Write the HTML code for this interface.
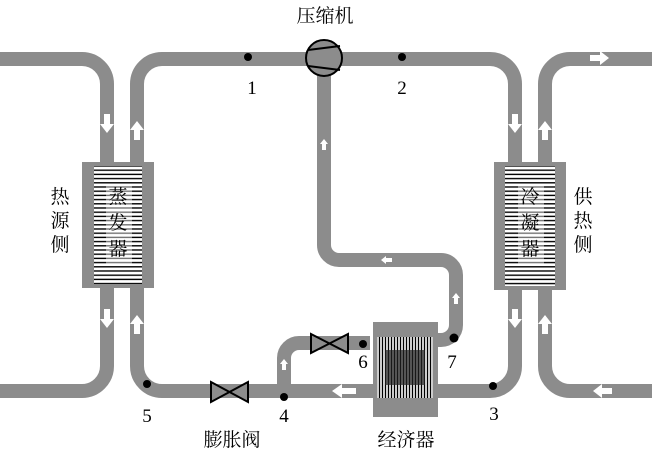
<!DOCTYPE html>
<html><head><meta charset="utf-8"><style>
body{margin:0;background:#fff}
svg{display:block}
text{font-family:"Liberation Serif","Noto Serif CJK SC",serif;fill:#000}
</style></head><body>
<svg width="652" height="452" viewBox="0 0 652 452" xmlns="http://www.w3.org/2000/svg">
<defs>
<pattern id="hl" width="10" height="4.2" patternUnits="userSpaceOnUse">
<rect width="10" height="4.2" fill="#fff"/><rect y="1.5" width="10" height="1.4" fill="#000"/>
</pattern>
<pattern id="vl" width="3" height="10" patternUnits="userSpaceOnUse">
<rect width="3" height="10" fill="#fff"/><rect x="0.8" width="1.4" height="10" fill="#000"/>
</pattern>
</defs>
<g fill="none" stroke="#8c8c8c" stroke-width="14">
<path d="M0,59 H82 A25 25 0 0 1 107 84 V366 A25 25 0 0 1 82 391 H0"/>
<path d="M324,59 H490 A25 25 0 0 1 515 84 V366 A25 25 0 0 1 490 391 H162 A25 25 0 0 1 137 366 V84 A25 25 0 0 1 162 59 Z"/>
<path d="M652,59 H570 A25 25 0 0 0 545 84 V366 A25 25 0 0 0 570 391 H652"/>
<path d="M324,59 V245 A15 15 0 0 0 339 260 H441 A15 15 0 0 1 456 275 V325 A15 15 0 0 1 441 340 H420"/>
<path d="M284,391 V358 A15 15 0 0 1 299 343 H370"/>
</g>
<rect x="82" y="162" width="72" height="126" fill="#8c8c8c"/>
<rect x="94" y="166" width="48" height="118" fill="url(#hl)"/>
<rect x="494" y="162" width="72" height="128" fill="#8c8c8c"/>
<rect x="505" y="166" width="50" height="120" fill="url(#hl)"/>
<rect x="373" y="322" width="65" height="95" fill="#8c8c8c"/>
<rect x="377" y="337" width="56" height="61" fill="url(#vl)"/>
<rect x="385" y="350" width="40" height="35" fill="#222" opacity="0.7"/>
<rect x="106" y="185" width="26" height="80" fill="#fff" opacity="0.45"/>
<rect x="518" y="185" width="26" height="80" fill="#fff" opacity="0.45"/>
<circle cx="324" cy="58" r="18" fill="#8c8c8c" stroke="#000" stroke-width="2"/>
<path d="M308,50 L340,46 M308,66 L340,70" stroke="#000" stroke-width="2"/>
<path d="M211,382 L248,402 L248,382 L211,402 Z" fill="#8c8c8c" stroke="#000" stroke-width="2"/>
<path d="M311,334 L348,353 L348,334 L311,353 Z" fill="#8c8c8c" stroke="#000" stroke-width="2"/>
<g fill="#000">
<circle cx="248" cy="57" r="4"/><circle cx="402" cy="57" r="4"/>
<circle cx="147" cy="384" r="4"/><circle cx="284" cy="397" r="4"/>
<circle cx="493" cy="386" r="4"/><circle cx="363" cy="344" r="4"/>
<circle cx="454" cy="338" r="4.5"/>
</g>
<g fill="#fff">
<path d="M104,114 h6 v10 h4 l-7,9 l-7,-9 h4z"/>
<path d="M104,309 h6 v10 h4 l-7,9 l-7,-9 h4z"/>
<path d="M134,140 h6 v-10 h4 l-7,-9 l-7,9 h4z"/>
<path d="M134,334 h6 v-10 h4 l-7,-9 l-7,9 h4z"/>
<path d="M512,114 h6 v10 h4 l-7,9 l-7,-9 h4z"/>
<path d="M512,309 h6 v10 h4 l-7,9 l-7,-9 h4z"/>
<path d="M542,140 h6 v-10 h4 l-7,-9 l-7,9 h4z"/>
<path d="M542,334 h6 v-10 h4 l-7,-9 l-7,9 h4z"/>
<path d="M590,55 v6 h10 v4 l9,-7 l-9,-7 v4z"/>
<path d="M612,388 v6 h-10 v4 l-9,-7 l9,-7 v4z"/>
<path d="M356,388 v6 h-14 v4 l-10,-7 l10,-7 v4z"/>
<path d="M322,150 h4 v-6 h2 l-4,-5 l-4,5 h2z"/>
<path d="M392,258 v4 h-6 v2 l-5,-4 l5,-4 v2z"/>
<path d="M454,304 h4 v-6 h2 l-4,-5 l-4,5 h2z"/>
<path d="M282,370 h4 v-6 h2 l-4,-5 l-4,5 h2z"/>
</g>
<g font-size="19">
<text x="325" y="22" text-anchor="middle">压缩机</text>
<text x="252" y="94" text-anchor="middle">1</text>
<text x="402" y="94" text-anchor="middle">2</text>
<text x="147" y="422" text-anchor="middle">5</text>
<text x="284" y="422" text-anchor="middle">4</text>
<text x="494" y="420" text-anchor="middle">3</text>
<text x="363" y="368" text-anchor="middle">6</text>
<text x="452" y="368" text-anchor="middle">7</text>
<text x="232" y="446" text-anchor="middle">膨胀阀</text>
<text x="406" y="446" text-anchor="middle">经济器</text>
<text x="60" y="203" text-anchor="middle">热</text>
<text x="60" y="227" text-anchor="middle">源</text>
<text x="60" y="251" text-anchor="middle">侧</text>
<text x="583" y="203" text-anchor="middle">供</text>
<text x="583" y="227" text-anchor="middle">热</text>
<text x="583" y="251" text-anchor="middle">侧</text>
<text x="118" y="203" text-anchor="middle">蒸</text>
<text x="118" y="229" text-anchor="middle">发</text>
<text x="118" y="255" text-anchor="middle">器</text>
<text x="530" y="203" text-anchor="middle">冷</text>
<text x="530" y="229" text-anchor="middle">凝</text>
<text x="530" y="255" text-anchor="middle">器</text>
</g>
</svg>
</body></html>
